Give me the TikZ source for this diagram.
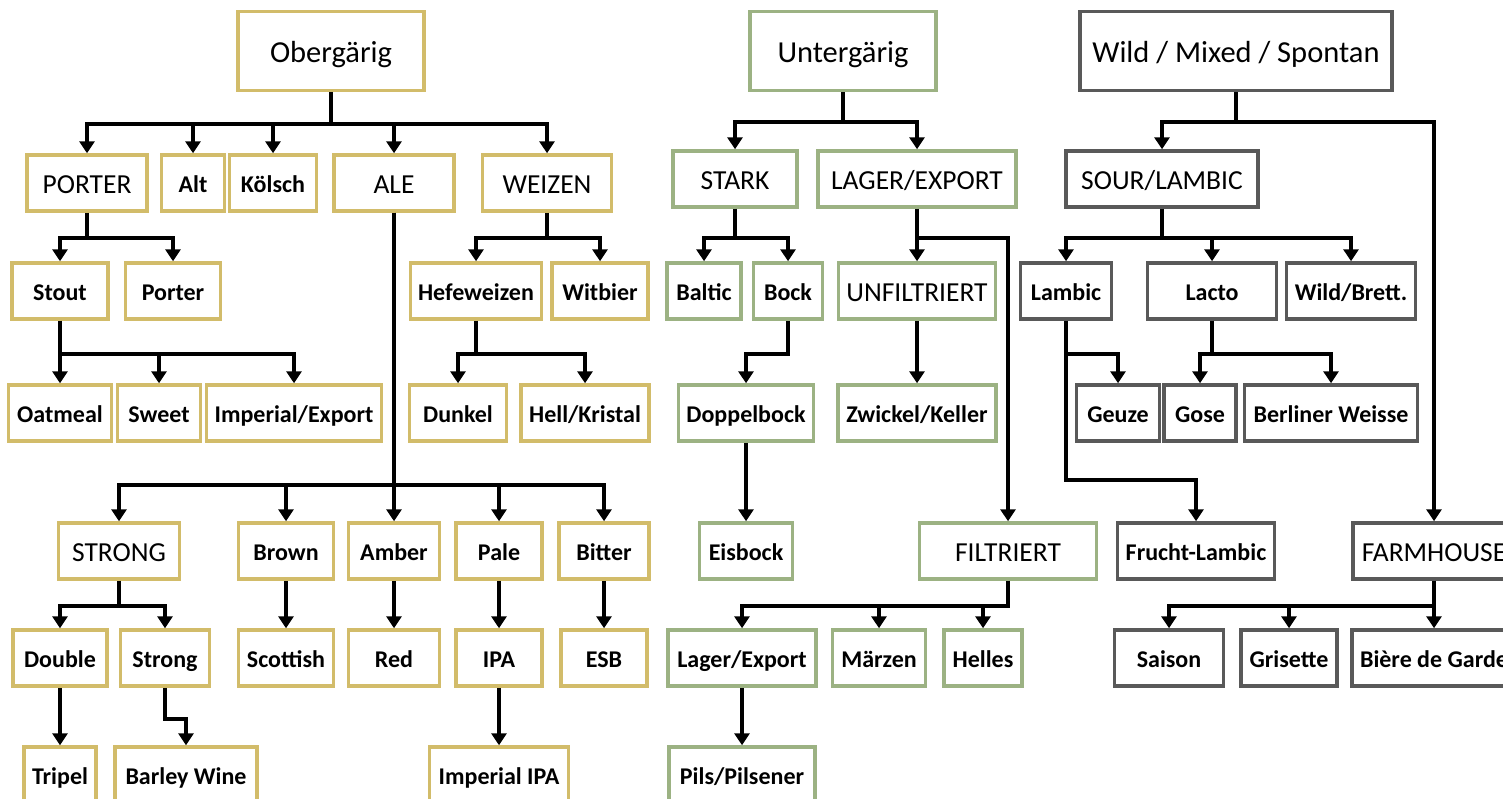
\documentclass[tikz,border=0pt]{standalone}
\usepackage{fontspec}
\setmainfont{Carlito}
\usetikzlibrary{arrows.meta,positioning,calc}
\definecolor{obgcol}{RGB}{210,188,106}
\definecolor{ungcol}{RGB}{156,178,131}
\definecolor{wldcol}{RGB}{89,89,89}
\tikzset{
  box/.style={draw,line width=3.5pt,fill=white,inner sep=0pt,minimum height=56pt},
  head/.style={box,minimum height=79pt,font=\fontsize{30.5}{36}\selectfont,
    text height=25pt,text depth=2pt},
  cat/.style={box,font=\fontsize{27.5}{33}\selectfont,text height=23pt,text depth=2pt},
  leaf/.style={box,font=\fontsize{24}{29}\selectfont\bfseries,text height=20.5pt,text depth=2pt},
  obg/.style={draw=obgcol},
  ung/.style={draw=ungcol},
  wld/.style={draw=wldcol},
  arr/.style={line width=4pt,-{Triangle[width=15pt,length=12pt]}}
}

\begin{document}
\begin{tikzpicture}[x=1pt,y=-1pt]
    \useasboundingbox (0,0) rectangle (1503,798);
    \clip (0,0) rectangle (1503,798);
    % Obergaerig
    \node[head,obg,minimum width=186] (ober) at (331,51) {Obergärig};
    \node[cat,obg,minimum width=120] (porter) at (87,183) {PORTER};
    \node[leaf,obg,minimum width=63] (alt) at (193,183) {Alt};
    \node[leaf,obg,minimum width=87] (koelsch) at (273,183) {Kölsch};
    \node[cat,obg,minimum width=120] (ale) at (394,183) {ALE};
    \node[cat,obg,minimum width=129] (weizen) at (547,183) {WEIZEN};
    \node[leaf,obg,minimum width=96] (stout) at (60,291) {Stout};
    \node[leaf,obg,minimum width=95] (porterb) at (173,291) {Porter};
    \node[leaf,obg,minimum width=131] (hefe) at (476,291) {Hefeweizen};
    \node[leaf,obg,minimum width=96] (witbier) at (600,291) {Witbier};
    \node[leaf,obg,minimum width=103] (oatmeal) at (60,413) {Oatmeal};
    \node[leaf,obg,minimum width=83] (sweet) at (159,413) {Sweet};
    \node[leaf,obg,minimum width=175] (impexp) at (294,413) {Imperial/Export};
    \node[leaf,obg,minimum width=97] (dunkel) at (458,413) {Dunkel};
    \node[leaf,obg,minimum width=128] (hell) at (585,413) {Hell/Kristal};
    \node[cat,obg,minimum width=121] (strong) at (119,551) {STRONG};
    \node[leaf,obg,minimum width=95] (brown) at (286,551) {Brown};
    \node[leaf,obg,minimum width=91] (amber) at (394,551) {Amber};
    \node[leaf,obg,minimum width=86] (pale) at (499,551) {Pale};
    \node[leaf,obg,minimum width=90] (bitter) at (604,551) {Bitter};
    \node[leaf,obg,minimum width=94] (double) at (60,658) {Double};
    \node[leaf,obg,minimum width=89] (strongb) at (165,658) {Strong};
    \node[leaf,obg,minimum width=95] (scottish) at (286,658) {Scottish};
    \node[leaf,obg,minimum width=91] (red) at (394,658) {Red};
    \node[leaf,obg,minimum width=86] (ipa) at (499,658) {IPA};
    \node[leaf,obg,minimum width=86] (esb) at (604,658) {ESB};
    \node[leaf,obg,minimum width=72] (tripel) at (60,775) {Tripel};
    \node[leaf,obg,minimum width=142] (barley) at (186,775) {Barley Wine};
    \node[leaf,obg,minimum width=139] (impipa) at (499,775) {Imperial IPA};
    % Untergaerig
    \node[head,ung,minimum width=186] (unter) at (843,51) {Untergärig};
    \node[cat,ung,minimum width=124] (stark) at (735,179) {STARK};
    \node[cat,ung,minimum width=198] (lagerexp) at (917,179) {LAGER/EXPORT};
    \node[leaf,ung,minimum width=74] (baltic) at (704,291) {Baltic};
    \node[leaf,ung,minimum width=69] (bock) at (788,291) {Bock};
    \node[cat,ung,minimum width=157] (unfilt) at (917,291) {UNFILTRIERT};
    \node[leaf,ung,minimum width=135] (doppel) at (746,413) {Doppelbock};
    \node[leaf,ung,minimum width=158] (zwickel) at (917,413) {Zwickel/Keller};
    \node[leaf,ung,minimum width=93] (eisbock) at (746,551) {Eisbock};
    \node[cat,ung,minimum width=177] (filt) at (1008,551) {FILTRIERT};
    \node[leaf,ung,minimum width=148] (lagerb) at (742,658) {Lager/Export};
    \node[leaf,ung,minimum width=93] (maerzen) at (879,658) {Märzen};
    \node[leaf,ung,minimum width=78] (helles) at (983,658) {Helles};
    \node[leaf,ung,minimum width=146] (pils) at (742,775) {Pils/Pilsener};
    % Wild / Mixed / Spontan
    \node[head,wld,minimum width=312] (wild) at (1236,51) {Wild / Mixed / Spontan};
    \node[cat,wld,minimum width=192] (sour) at (1162,179) {SOUR/LAMBIC};
    \node[leaf,wld,minimum width=91] (lambic) at (1066,291) {Lambic};
    \node[leaf,wld,minimum width=129] (lacto) at (1212,291) {Lacto};
    \node[leaf,wld,minimum width=129] (brett) at (1351,291) {Wild/Brett.};
    \node[leaf,wld,minimum width=83] (geuze) at (1118,413) {Geuze};
    \node[leaf,wld,minimum width=72] (gose) at (1200,413) {Gose};
    \node[leaf,wld,minimum width=173] (berliner) at (1331,413) {Berliner Weisse};
    \node[leaf,wld,minimum width=157] (frucht) at (1196,551) {Frucht-Lambic};
    \node[cat,wld,minimum width=162] (farm) at (1434,551) {FARMHOUSE};
    \node[leaf,wld,minimum width=109] (saison) at (1169,658) {Saison};
    \node[leaf,wld,minimum width=96] (grisette) at (1289,658) {Grisette};
    \node[leaf,wld,minimum width=164] (biere) at (1434,658) {Bière de Garde};
    % connectors
    \foreach \c in {porter,alt,koelsch,ale,weizen}
      \draw[arr] (ober.south) -- ++(0,32) -| (\c.north);
    \foreach \c in {stout,porterb}
      \draw[arr] (porter.south) -- ++(0,25) -| (\c.north);
    \foreach \c in {oatmeal,sweet,impexp}
      \draw[arr] (stout.south) -- ++(0,33) -| (\c.north);
    \foreach \c in {hefe,witbier}
      \draw[arr] (weizen.south) -- ++(0,25) -| (\c.north);
    \foreach \c in {dunkel,hell}
      \draw[arr] (hefe.south) -- ++(0,33) -| (\c.north);
    \foreach \c in {strong,brown,amber,pale,bitter}
      \draw[arr] (ale.south) -- ++(0,272) -| (\c.north);
    \foreach \c in {double,strongb}
      \draw[arr] (strong.south) -- ++(0,25) -| (\c.north);
    \draw[arr] (double) -- (tripel);
    \draw[arr] (strongb.south) -- ++(0,31) -| (barley.north);
    \draw[arr] (brown) -- (scottish);
    \draw[arr] (amber) -- (red);
    \draw[arr] (pale) -- (ipa);
    \draw[arr] (bitter) -- (esb);
    \draw[arr] (ipa) -- (impipa);
    \foreach \c in {stark,lagerexp}
      \draw[arr] (unter.south) -- ++(0,30) -| (\c.north);
    \foreach \c in {baltic,bock}
      \draw[arr] (stark.south) -- ++(0,29) -| (\c.north);
    \draw[arr] (bock.south) -- ++(0,33) -| (doppel.north);
    \draw[arr] (doppel) -- (eisbock);
    \draw[arr] (lagerexp) -- (unfilt);
    \draw[arr] (lagerexp.south) -- ++(0,29) -| (filt.north);
    \draw[arr] (unfilt) -- (zwickel);
    \foreach \c in {lagerb,maerzen,helles}
      \draw[arr] (filt.south) -- ++(0,25) -| (\c.north);
    \draw[arr] (lagerb) -- (pils);
    \foreach \c in {sour,farm}
      \draw[arr] (wild.south) -- ++(0,30) -| (\c.north);
    \foreach \c in {lambic,lacto,brett}
      \draw[arr] (sour.south) -- ++(0,29) -| (\c.north);
    \draw[arr] (lambic.south) -- ++(0,33) -| (geuze.north);
    \draw[arr] (lambic.south) -- ++(0,159) -| (frucht.north);
    \foreach \c in {gose,berliner}
      \draw[arr] (lacto.south) -- ++(0,33) -| (\c.north);
    \foreach \c in {saison,grisette,biere}
      \draw[arr] (farm.south) -- ++(0,25) -| (\c.north);
\end{tikzpicture}
\end{document}
